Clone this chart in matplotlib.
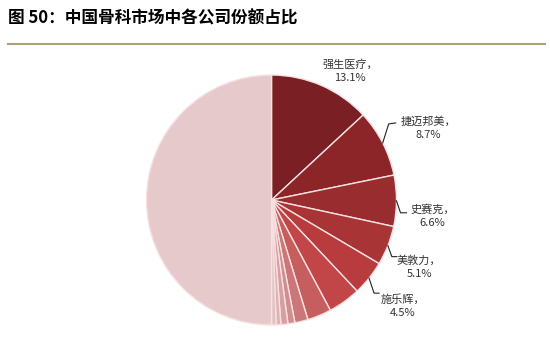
import numpy as np
import matplotlib.pyplot as plt
from matplotlib.lines import Line2D

plt.rcParams['font.family'] = ['Noto Sans CJK SC', 'DejaVu Sans']

# data
companies = ['强生医疗', '捷迈邦美', '史赛克', '美敦力', '施乐辉',
             '其他1', '其他2', '其他3', '其他4', '其他5', '其他6', '其他7', '其他']
shares = [13.1, 8.7, 6.6, 5.1, 4.5, 4.2, 3.1, 1.7, 0.9, 0.9, 0.6, 0.6, 50.0]
colors = ['#7A1F23', '#8B2528', '#992C2F', '#A83436', '#B83B3E', '#C24548',
          '#C65E60', '#CB7678', '#D08D8F', '#D6A0A2', '#DCB2B4', '#E2C1C2', '#E6C9CA']
n_labeled = 5

title = '图 50：中国骨科市场中各公司份额占比'

fig = plt.figure(figsize=(5.5, 3.54), dpi=100)
fig.patch.set_facecolor('white')

fig.text(0.015, 0.948, title, fontsize=12, fontweight='bold', ha='left', va='center')
fig.add_artist(Line2D([0.015, 0.99], [0.876, 0.876], color='#A5A27A', lw=1.5))

ax = fig.add_axes([0.2664, 0.0819, 0.4545, 0.7062])
wedges, _ = ax.pie(shares, colors=colors, startangle=90, counterclock=False,
                   radius=1.0, wedgeprops=dict(edgecolor='#F8E0E0', linewidth=1.0))
ax.set_xlim(-1, 1)
ax.set_ylim(-1, 1)
ax.set_aspect('equal')
ax.axis('off')

# label layout: text centre, and leader elbow/end offsets (None = no leader)
label_pos = [(0.628, 1.032), (1.252, 0.576), (1.29, -0.128), (1.18, -0.536), (1.052, -0.848)]
elbows = [None, ((0.048, 0.152), (0.104, 0.16)), ((0.032, -0.096), (0.08, -0.096)),
          ((0.032, -0.088), (0.072, -0.088)), ((0.04, -0.12), (0.08, -0.12))]

for i in range(n_labeled):
    w = wedges[i]
    mid = np.deg2rad((w.theta1 + w.theta2) / 2)
    sx, sy = np.cos(mid), np.sin(mid)
    tx, ty = label_pos[i]
    ax.text(tx, ty, f'{companies[i]}，\n{shares[i]}%', ha='center', va='center',
            fontsize=8, linespacing=1.5, color='#333333', clip_on=False)
    if elbows[i] is not None:
        (e1x, e1y), (e2x, e2y) = elbows[i]
        ax.plot([sx, sx + e1x, sx + e2x], [sy, sy + e1y, sy + e2y],
                color='#222222', lw=0.8, clip_on=False)

fig.savefig('out.png', dpi=100)
